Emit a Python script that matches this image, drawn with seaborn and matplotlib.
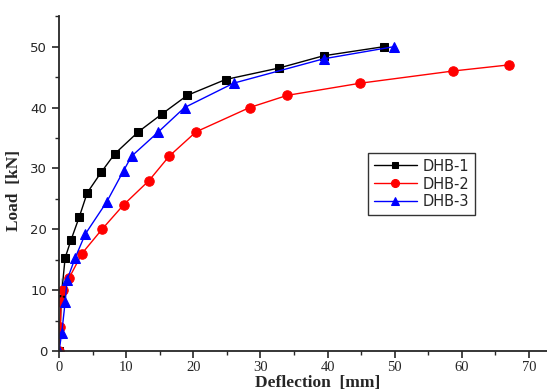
import matplotlib
matplotlib.use("Agg")
import matplotlib.pyplot as plt
import seaborn as sns
import pandas as pd
from matplotlib.ticker import MultipleLocator

sns.set_style("ticks")

dhb1_defl = [0, 0.3, 0.3, 0.9, 1.8, 3.0, 4.2, 6.3, 8.3, 11.8, 15.4, 19.1, 24.8, 32.8, 39.4, 48.4]
dhb1_load = [0, 5, 12, 15.3, 18.3, 22, 26, 29.4, 32.4, 36, 39, 42, 44.6, 46.5, 48.5, 50]

dhb2_defl = [0, 0.2, 0.3, 0.6, 1.5, 3.4, 6.4, 9.6, 13.4, 16.4, 20.4, 28.4, 34.0, 44.9, 58.7, 67.0]
dhb2_load = [0, 4, 8, 10, 12, 16, 20, 24, 28, 32, 36, 40, 42, 44, 46, 47]

dhb3_defl = [0, 0.4, 0.4, 0.9, 1.2, 2.4, 3.9, 7.1, 9.6, 10.8, 14.8, 18.7, 26.0, 39.4, 49.9]
dhb3_load = [0, 2, 4, 8, 11.7, 15.3, 19.2, 24.5, 29.6, 32, 36, 40, 44, 48, 50]

x_ticks = [0, 10, 20, 30, 40, 50, 60, 70]
y_ticks = [0, 10, 20, 30, 40, 50]

series = [
    ("DHB-1", dhb1_defl, dhb1_load, "black", "s", 5.8),
    ("DHB-2", dhb2_defl, dhb2_load, "red", "o", 6.8),
    ("DHB-3", dhb3_defl, dhb3_load, "blue", "^", 7.6),
]

fig = plt.figure(figsize=(5.47, 3.92), dpi=100)
ax = fig.add_axes([0.108, 0.1046, 0.892, 0.854])

for name, xs, ys, col, mk, ms in series:
    df = pd.DataFrame({"Deflection": xs, "Load": ys})
    sns.lineplot(data=df, x="Deflection", y="Load", sort=False, ax=ax,
                 color=col, marker=mk, markersize=ms, linewidth=1.0,
                 markeredgecolor=col, label=name)

ax.set_xlim(0, 72.7)
ax.set_ylim(0, 55)
ax.set_xticks(x_ticks)
ax.set_yticks(y_ticks)
ax.xaxis.set_minor_locator(MultipleLocator(5))
ax.yaxis.set_minor_locator(MultipleLocator(5))
sns.despine(ax=ax)
for s in ["left", "bottom"]:
    ax.spines[s].set_linewidth(1.3)
ax.tick_params(which="major", direction="out", length=5, width=1.2)
ax.tick_params(which="minor", direction="out", length=3, width=1.0)

for lbl in ax.get_xticklabels():
    lbl.set_fontfamily("Liberation Serif")
    lbl.set_fontsize(10.5)
for lbl in ax.get_yticklabels():
    lbl.set_fontfamily("DejaVu Sans")
    lbl.set_fontsize(9.5)
ax.tick_params(axis="x", pad=2)

ax.set_xlabel("Deflection  [mm]", fontfamily="Liberation Serif", fontweight="bold",
              fontsize=12.5)
ax.set_ylabel("Load  [kN]", fontfamily="Liberation Serif", fontweight="bold",
              fontsize=12.5)
ax.xaxis.set_label_coords(0.53, -0.072)
ax.yaxis.set_label_coords(-0.077, 0.48)

leg = ax.legend(loc="upper left", bbox_to_anchor=(0.634, 0.59), frameon=True,
                fancybox=False, edgecolor="black", fontsize=10.5,
                handlelength=3.0, borderpad=0.35, labelspacing=0.2,
                handletextpad=0.4, borderaxespad=0, markerscale=0.85)
leg.get_frame().set_linewidth(1.0)

fig.savefig("out.png", dpi=100)
